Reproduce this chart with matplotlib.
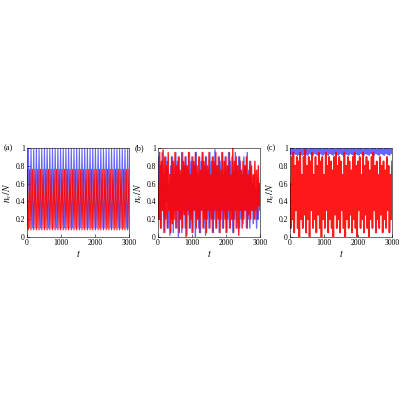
import matplotlib
matplotlib.use("Agg")
import matplotlib.pyplot as plt
import numpy as np

plt.rcParams['font.family'] = ['Liberation Serif', 'DejaVu Serif']
plt.rcParams['mathtext.fontset'] = 'stix'

blue_a = [0.1,1.0,0.1,1.0,0.1,1.0,0.1,1.0,0.1,1.0,0.1,1.0,0.1,1.0,0.1,1.0,0.1,1.0,0.1,1.0,
          0.1,1.0,0.1,1.0,0.1,1.0,0.1,1.0,0.1,1.0,0.1,1.0,0.1,1.0,0.1,1.0,0.1,1.0,0.1,1.0,
          0.1,1.0,0.1,1.0,0.1,1.0,0.1,1.0,0.1,1.0,0.1,1.0,0.1,1.0,0.1,1.0,0.1,1.0,0.1,1.0,
          0.1,1.0,0.1,1.0,0.1,1.0,0.1,1.0,0.1,1.0,0.1,1.0,0.1,1.0,0.1,1.0,0.1]
red_a = [0.76,0.08,0.76,0.08,0.76,0.08,0.76,0.08,0.76,0.08,0.76,0.08,0.76,0.08,0.76,0.08,0.76,0.08,0.76,0.08,
         0.76,0.08,0.76,0.08,0.76,0.08,0.76,0.08,0.76,0.08,0.76,0.08,0.76,0.08,0.76,0.08,0.76,0.08,0.76,0.08,
         0.76,0.08,0.76,0.08,0.76,0.08,0.76,0.08,0.76,0.08,0.76,0.08,0.76,0.08,0.76,0.08,0.76,0.08,0.76,0.08,
         0.76,0.08,0.76,0.08,0.76,0.08,0.76,0.08,0.76,0.08,0.76,0.08,0.76,0.08,0.76,0.08,0.76]
t_a = np.linspace(0, 3000, len(blue_a))

blue_b = [0.3,0.9,0.2,0.8,0.1,0.95,0.3,0.7,0.05,0.9,0.4,0.85,0.1,0.6,0.02,0.8,0.2,0.9,0.05,0.7,
          0.3,0.95,0.1,0.85,0.0,0.9,0.2,0.7,0.05,0.95,0.3,0.8,0.1,0.9,0.02,0.75,0.25,0.95,0.1,0.85,
          0.05,0.9,0.3,0.8,0.0,0.95,0.2,0.7,0.1,0.9,0.05,0.85,0.3,0.95,0.1,0.8,0.02,0.9,0.2,0.75,
          0.1,0.95,0.3,0.85,0.05,0.9,0.2,0.98,0.1,0.8,0.3,0.9,0.05,0.85,0.2,0.95,0.1,0.7,0.3,0.9,
          0.05,0.8,0.2,0.95,0.1,0.85,0.3,0.9,0.05,0.75,0.2,0.95,0.1,0.8,0.3,0.9,0.1,0.85,0.2,0.7,
          0.15,0.9,0.3,0.8,0.1,0.95,0.2,0.75,0.1,0.85,0.3,0.6,0.15,0.7,0.2,0.55,0.1,0.65,0.2,0.6,0.3]
red_b = [0.6,0.2,0.95,0.1,0.85,0.3,0.98,0.05,0.9,0.2,0.8,0.1,0.95,0.3,0.7,0.05,0.9,0.15,0.85,0.2,
         0.95,0.1,0.8,0.3,0.9,0.05,0.75,0.2,0.95,0.1,0.85,0.25,0.9,0.0,0.8,0.3,0.95,0.1,0.7,0.2,
         0.9,0.05,0.85,0.3,0.95,0.1,0.8,0.2,0.9,0.05,0.75,0.3,0.95,0.1,0.85,0.2,0.9,0.05,0.8,0.3,
         0.95,0.1,0.7,0.2,0.9,0.05,0.85,0.3,0.95,0.1,0.8,0.2,0.9,0.05,0.75,0.3,0.95,0.1,0.85,0.2,
         0.9,0.05,0.8,0.3,0.95,0.1,0.7,0.2,1.0,0.05,0.85,0.3,0.9,0.1,0.8,0.02,0.9,0.3,0.75,0.1,
         0.85,0.2,0.8,0.3,0.9,0.1,0.7,0.25,0.85,0.2,0.8,0.3,0.7,0.2,0.85,0.3,0.75,0.2,0.8,0.35,0.6]
t_b = np.linspace(0, 3000, len(blue_b))

blue_c = [1.0,0.93,0.99,0.92,1.0,0.94,0.98,0.93,1.0,0.92,0.99,0.94,1.0,0.93,0.98,0.92,1.0,0.94,0.99,0.93,
          1.0,0.92,0.98,0.94,1.0,0.93,0.99,0.92,1.0,0.94,0.98,0.93,1.0,0.92,0.99,0.94,1.0,0.93,0.98,0.92,
          1.0,0.94,0.99,0.93,1.0,0.92,0.98,0.94,1.0,0.93,0.99,0.92,1.0,0.94,0.98,0.93,1.0,0.92,0.99,0.94,
          1.0,0.93,0.98,0.92,1.0,0.94,0.99,0.93,1.0,0.92,0.98,0.94,1.0,0.93,0.99,0.92,1.0,0.94,0.98,0.93,
          1.0,0.92,0.99,0.94,1.0,0.93,0.98,0.92,1.0,0.94,0.99,0.93,1.0,0.92,0.98,0.94,1.0,0.93,0.99,0.92,
          1.0,0.94,0.98,0.93,1.0,0.92,0.99,0.94,1.0,0.93,0.98,0.92,1.0,0.94,0.99,0.93,1.0,0.92,0.98,0.94,1.0]
red_c = [0.6,0.1,0.9,0.2,0.95,0.05,0.8,0.3,0.9,0.1,0.85,0.0,0.95,0.2,0.7,0.1,0.9,0.25,0.98,0.05,
         0.8,0.2,0.9,0.0,0.85,0.3,0.95,0.1,0.7,0.2,0.9,0.05,0.8,0.25,0.95,0.1,0.85,0.0,0.9,0.2,
         0.7,0.1,0.95,0.3,0.8,0.05,0.9,0.2,0.85,0.1,0.75,0.0,0.9,0.25,0.95,0.1,0.8,0.2,0.9,0.05,
         0.85,0.3,0.7,0.1,0.95,0.0,0.8,0.2,0.9,0.1,0.85,0.25,0.75,0.05,0.9,0.2,0.95,0.1,0.8,0.0,
         0.85,0.3,0.9,0.1,0.7,0.2,0.95,0.05,0.8,0.25,0.9,0.1,0.85,0.0,0.75,0.2,0.9,0.1,0.95,0.3,
         0.8,0.05,0.85,0.2,0.7,0.1,0.9,0.25,0.8,0.05,0.85,0.2,0.75,0.1,0.9,0.3,0.8,0.05,0.7,0.2,0.85]
t_c = np.linspace(0, 3000, len(blue_c))

panels = [("(a)", t_a, blue_a, red_a, 0.0675, 0.8),
          ("(b)", t_b, blue_b, red_b, 0.395, 1.0),
          ("(c)", t_c, blue_c, red_c, 0.725, 1.2)]

fig = plt.figure(figsize=(4, 4), dpi=100)
for label, t, b, r, left, lw in panels:
    ax = fig.add_axes([left, 0.4075, 0.255, 0.2225])
    ax.plot(t, b, color='blue', lw=lw, alpha=0.6)
    ax.plot(t, r, color='red', lw=lw, alpha=0.9)
    ax.set_xlim(0, 3000)
    ax.set_ylim(0, 1.0)
    ax.set_xticks([0, 1000, 2000, 3000])
    ax.set_yticks([0, 0.2, 0.4, 0.6, 0.8, 1])
    ax.set_yticklabels(['0', '0.2', '0.4', '0.6', '0.8', '1'])
    ax.tick_params(labelsize=5.5, direction='in', length=2, width=0.4, pad=1.5)
    for s in ax.spines.values():
        s.set_linewidth(0.4)
    ax.set_xlabel('$t$', fontsize=7, labelpad=1)
    ax.set_ylabel('$n_v/N$', fontsize=7, labelpad=1)
    ax.text(-0.23, 1.0, label, transform=ax.transAxes, fontsize=6, va='center')

fig.savefig('out.png', dpi=100)
